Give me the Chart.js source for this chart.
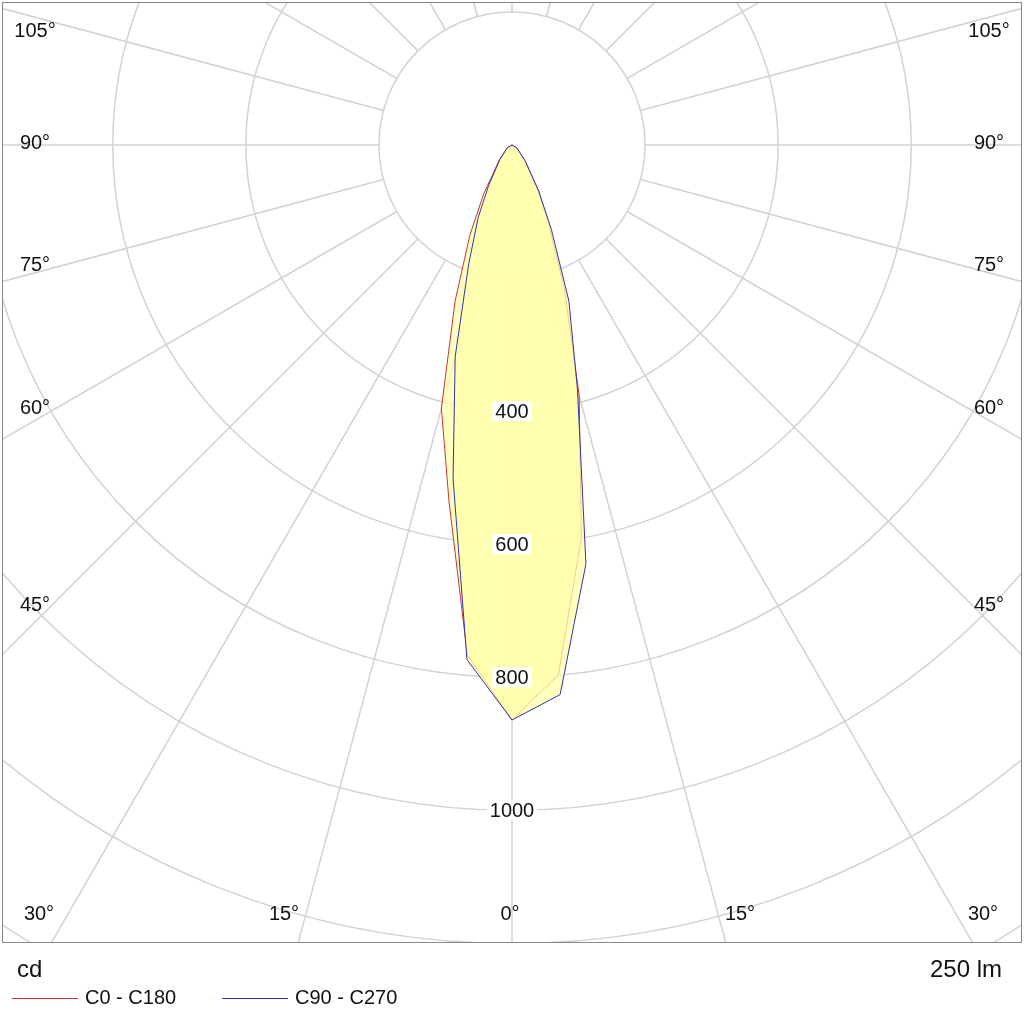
<!DOCTYPE html>
<html>
<head>
<meta charset="utf-8">
<script src="https://cdn.jsdelivr.net/npm/chart.js@4/dist/chart.umd.min.js"></script>
<style>
  html, body { margin: 0; padding: 0; background: #fff; }
  #wrap { width: 1024px; height: 1026px; position: relative; }
</style>
</head>
<body>
<div id="wrap"><canvas id="polar"></canvas></div>
<script>
// ═══ 배광 곡선 데이터 (cd) ═══
const gammaAngles = [0, 5, 10, 15, 20, 25, 30, 40, 60, 90];
const c0Values    = [865, 800, 600, 390, 230, 130, 80, 30, 8, 0];
const c180Values  = [865, 770, 545, 410, 250, 150, 85, 30, 8, 0];
const c90Values   = [865, 830, 640, 380, 250, 140, 80, 30, 8, 0];
const c270Values  = [865, 777, 510, 330, 190, 120, 70, 28, 8, 0];

const ringValues  = [200, 400, 600, 800, 1000, 1200, 1400, 1600];
const ringLabels  = [400, 600, 800, 1000];
const leftAngles  = [30, 45, 60, 75, 90, 105];
const bottomLabels = [30, 15, 0, 15, 30];

// 감마각/광도 → 직교좌표 (중심 0,0, 아래가 0°)
function toXY(angles, values, side) {
    return angles.map((g, i) => {
        const rad = g * Math.PI / 180;
        return { x: side * values[i] * Math.sin(rad), y: -values[i] * Math.cos(rad) };
    });
}

function curve(leftVals, rightVals) {
    const left  = toXY(gammaAngles, leftVals, -1).reverse();
    const right = toXY(gammaAngles, rightVals, 1).slice(1);
    return left.concat(right);
}

const gridPlugin = {
    id: 'polarGrid',
    beforeDatasetsDraw(chart) {
        const { ctx, chartArea: a, scales: { x, y } } = chart;
        const cx = x.getPixelForValue(0), cy = y.getPixelForValue(0);
        const k  = x.getPixelForValue(100) - cx;   // px per 100 cd
        ctx.save();
        ctx.beginPath();
        ctx.rect(a.left, a.top, a.right - a.left, a.bottom - a.top);
        ctx.clip();
        ctx.strokeStyle = '#d2d2d2';
        ctx.lineWidth = 1.5;
        ringValues.forEach(v => {
            ctx.beginPath();
            ctx.arc(cx, cy, v * k / 100, 0, Math.PI * 2);
            ctx.stroke();
        });
        for (let g = 0; g < 360; g += 15) {
            const rad = g * Math.PI / 180;
            const r0 = 200 * k / 100, r1 = 3000 * k / 100;
            ctx.beginPath();
            ctx.moveTo(cx + r0 * Math.sin(rad), cy + r0 * Math.cos(rad));
            ctx.lineTo(cx + r1 * Math.sin(rad), cy + r1 * Math.cos(rad));
            ctx.stroke();
        }
        ctx.restore();
    },
    afterDraw(chart) {
        const { ctx, chartArea: a, scales: { x, y } } = chart;
        const cx = x.getPixelForValue(0), cy = y.getPixelForValue(0);
        const k  = x.getPixelForValue(100) - cx;
        ctx.save();
        ctx.font = '20px "Liberation Sans", Arial, sans-serif';
        ctx.textAlign = 'center';
        ctx.textBaseline = 'middle';

        // 링 라벨
        ringLabels.forEach(v => {
            const py = cy + v * k / 100;
            const w = ctx.measureText(String(v)).width + 6;
            ctx.fillStyle = '#fff';
            ctx.fillRect(cx - w / 2, py - 10, w, 20);
            ctx.fillStyle = '#111';
            ctx.fillText(String(v), cx, py + 1);
        });

        // 좌우 각도 라벨
        const dx = cx - (a.left + 32);
        leftAngles.forEach(g => {
            const rad = g * Math.PI / 180;
            let py = cy + dx / Math.tan(rad) - 20 * Math.cos(rad);
            if (g === 30) return;
            if (g === 105) py = cy - dx / Math.tan(Math.PI - rad) + 16;
            ctx.fillStyle = '#111';
            ctx.fillText(g + '°', a.left + 32, py - 2);
            ctx.fillText(g + '°', a.right - 32, py - 2);
        });

        // 하단 각도 라벨
        const by = a.bottom - 28;
        const xs = [a.left + 36, cx - 228, cx - 2, cx + 228, a.right - 38];
        bottomLabels.forEach((g, i) => ctx.fillText(g + '°', xs[i], by));

        // 테두리
        ctx.strokeStyle = '#888';
        ctx.lineWidth = 1;
        ctx.strokeRect(a.left - 0.5, a.top - 0.5, a.right - a.left + 1, a.bottom - a.top + 1);

        // 하단 정보 + 범례
        ctx.textAlign = 'left';
        ctx.font = '24px "Liberation Sans", Arial, sans-serif';
        ctx.fillText('cd', 17, 970);
        ctx.textAlign = 'right';
        ctx.fillText('250 lm', 1002, 970);
        ctx.textAlign = 'left';
        ctx.font = '20px "Liberation Sans", Arial, sans-serif';
        [['C0 - C180', '#cc3333', 12], ['C90 - C270', '#3333aa', 222]].forEach(([t, c, lx]) => {
            ctx.strokeStyle = c;
            ctx.beginPath();
            ctx.moveTo(lx, 998.5);
            ctx.lineTo(lx + 66, 998.5);
            ctx.stroke();
            ctx.fillStyle = '#111';
            ctx.fillText(t, lx + 73, 998);
        });
        ctx.restore();
    }
};

new Chart(document.getElementById('polar'), {
    type: 'scatter',
    data: {
        datasets: [
            {
                label: 'C90 - C270',
                data: curve(c270Values, c90Values),
                showLine: true,
                borderColor: '#3333aa',
                borderWidth: 1,
                backgroundColor: 'rgba(255,255,170,0.75)',
                fill: 'shape',
                pointRadius: 0,
                tension: 0
            },
            {
                label: 'C0 - C180',
                data: curve(c180Values, c0Values),
                showLine: true,
                borderColor: '#cc3333',
                borderWidth: 1,
                backgroundColor: 'rgba(255,255,170,0.75)',
                fill: 'shape',
                pointRadius: 0,
                tension: 0
            }
        ]
    },
    options: {
        responsive: true,
        maintainAspectRatio: false,
        animation: false,
        layout: { padding: { left: 3, right: 3, top: 3, bottom: 84 } },
        scales: {
            x: { type: 'linear', min: -765, max: 765, display: false },
            y: { type: 'linear', min: -1199, max: 213.6, display: false }
        },
        plugins: { legend: { display: false }, tooltip: { enabled: false } }
    },
    plugins: [gridPlugin]
});
</script>
</body>
</html>
